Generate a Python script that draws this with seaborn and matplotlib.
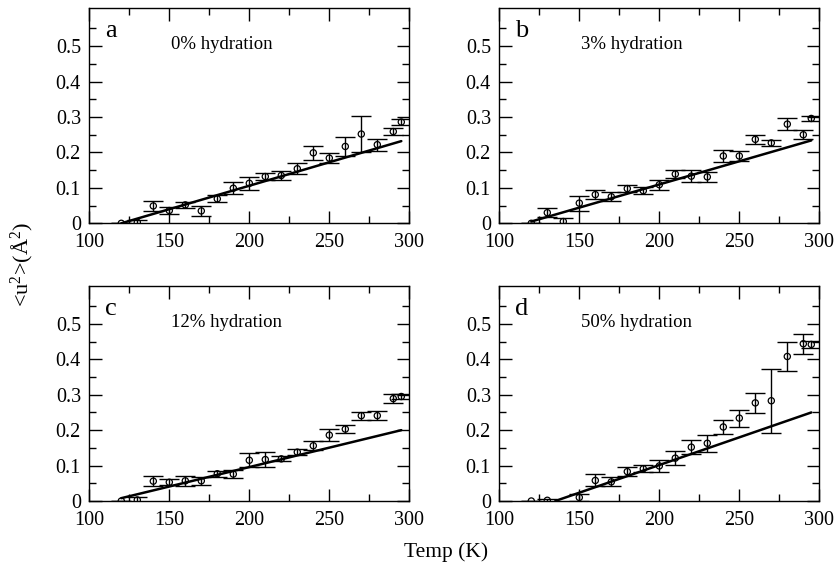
import matplotlib as mpl
import matplotlib.pyplot as plt
import seaborn as sns
from matplotlib.ticker import MultipleLocator, FixedLocator, FuncFormatter

sns.set_style('ticks')
mpl.rcParams['font.family'] = ['Liberation Serif', 'DejaVu Serif']
mpl.rcParams['mathtext.fontset'] = 'custom'
mpl.rcParams['mathtext.rm'] = 'Liberation Serif'
mpl.rcParams['mathtext.it'] = 'Liberation Serif:italic'
mpl.rcParams['text.color'] = 'black'

temps = [120, 130, 140, 150, 160, 170, 180, 190, 200, 210,
         220, 230, 240, 250, 260, 270, 280, 290, 295]
temps_d = [120, 130, 150, 160, 170, 180, 190, 200, 210,
           220, 230, 240, 250, 260, 270, 280, 290, 295]

u2_a = [0.0, 0.003, 0.049, 0.036, 0.052, 0.035, 0.069, 0.099, 0.113, 0.132,
        0.135, 0.154, 0.199, 0.184, 0.217, 0.252, 0.222, 0.259, 0.286]
err_a = [0.0, 0.007, 0.014, 0.010, 0.008, 0.014, 0.010, 0.017, 0.019, 0.010,
         0.012, 0.016, 0.020, 0.014, 0.026, 0.050, 0.017, 0.010, 0.009]

u2_b = [0.0, 0.030, 0.005, 0.057, 0.081, 0.075, 0.098, 0.092, 0.109, 0.139,
        0.133, 0.131, 0.190, 0.190, 0.237, 0.227, 0.280, 0.250, 0.296]
err_b = [0.0, 0.012, 0.010, 0.021, 0.012, 0.012, 0.011, 0.010, 0.014, 0.011,
         0.017, 0.013, 0.016, 0.015, 0.012, 0.008, 0.016, 0.013, 0.007]

u2_c = [0.0, 0.003, 0.056, 0.053, 0.057, 0.057, 0.077, 0.076, 0.115, 0.117,
        0.119, 0.138, 0.156, 0.186, 0.203, 0.241, 0.241, 0.289, 0.295]
err_c = [0.0, 0.007, 0.014, 0.008, 0.014, 0.011, 0.009, 0.011, 0.020, 0.021,
         0.007, 0.008, 0.012, 0.018, 0.012, 0.011, 0.013, 0.013, 0.007]

u2_d = [0.0, 0.002, 0.010, 0.058, 0.054, 0.083, 0.091, 0.099, 0.121,
        0.152, 0.163, 0.209, 0.234, 0.277, 0.283, 0.408, 0.444, 0.442]
err_d = [0.0, 0.004, 0.010, 0.017, 0.013, 0.013, 0.010, 0.016, 0.019,
         0.019, 0.024, 0.020, 0.024, 0.029, 0.090, 0.040, 0.028, 0.011]

# linear fits drawn through each panel
fit_x_a, fit_y_a = [120, 295], [0.0, 0.232]
fit_x_b, fit_y_b = [120, 295], [0.005, 0.234]
fit_x_c, fit_y_c = [120, 295], [0.008, 0.200]
fit_x_d, fit_y_d = [135, 295], [0.0, 0.250]

letters = ['a', 'b', 'c', 'd']
hydration = ['0% hydration', '3% hydration', '12% hydration', '50% hydration']
y_ticks = [0.0, 0.1, 0.2, 0.3, 0.4, 0.5]

panels = [
    (temps, u2_a, err_a, fit_x_a, fit_y_a),
    (temps, u2_b, err_b, fit_x_b, fit_y_b),
    (temps, u2_c, err_c, fit_x_c, fit_y_c),
    (temps_d, u2_d, err_d, fit_x_d, fit_y_d),
]

W, H = 835, 567
fig = plt.figure(figsize=(W / 100, H / 100), dpi=100)
lefts = [89.3, 499.3]
tops = [8.3, 286.0]
aw, ah = 320.0, 215.0

for i, (tx, uy, ue, fx, fy) in enumerate(panels):
    col, row = i % 2, i // 2
    ax = fig.add_axes([lefts[col] / W, 1 - (tops[row] + ah) / H, aw / W, ah / H])
    ax.errorbar(tx, uy, yerr=ue, fmt='none', ecolor='black',
                elinewidth=1.0, capsize=7, capthick=1.0, zorder=2)
    sns.scatterplot(x=tx, y=uy, ax=ax, marker='o', s=20,
                    facecolor='none', edgecolor='black', linewidth=0.9, zorder=3)
    sns.lineplot(x=fx, y=fy, ax=ax, color='black', linewidth=1.8, zorder=4)
    ax.set_xlim(100, 300)
    ax.set_ylim(0, 0.607)
    ax.xaxis.set_major_locator(MultipleLocator(50))
    ax.xaxis.set_minor_locator(MultipleLocator(25))
    ax.yaxis.set_major_locator(FixedLocator(y_ticks))
    ax.yaxis.set_minor_locator(FixedLocator([v + 0.05 for v in y_ticks]))
    ax.yaxis.set_major_formatter(FuncFormatter(lambda v, p: '0' if abs(v) < 1e-9 else f'{v:.1f}'))
    ax.tick_params(which='both', direction='in', top=True, right=True,
                   colors='black', labelcolor='black', labelsize=14.5, width=1.0)
    ax.tick_params(which='major', length=9)
    ax.tick_params(which='minor', length=5)
    ax.tick_params(axis='x', which='major', pad=7)
    ax.tick_params(axis='y', which='major', pad=6)
    for s in ax.spines.values():
        s.set_visible(True)
        s.set_color('black')
        s.set_linewidth(1.0)
    ax.text(110, 0.525, letters[i], fontsize=19, color='black', ha='left', va='baseline')
    ax.text(151, 0.492, hydration[i], fontsize=13.5, color='black', ha='left', va='baseline')

fig.text(22 / W, 1 - 264 / H, '<u$^{2}$>(Å$^{2}$)', rotation=90,
         fontsize=16, color='black', ha='center', va='center')
fig.text(446 / W, 1 - 557 / H, 'Temp (K)', fontsize=15.5, color='black',
         ha='center', va='baseline')

fig.savefig('out.png', dpi=100)
